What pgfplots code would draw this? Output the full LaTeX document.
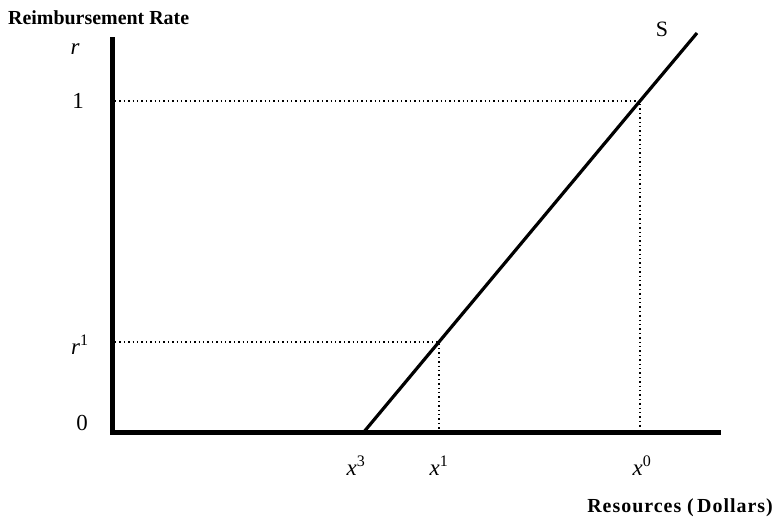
\documentclass[border=0pt]{standalone}
\usepackage{pgfplots}
\pgfplotsset{compat=1.18}
\usepackage{fontspec}
\setmainfont{Liberation Serif}
\newcommand{\lab}{\fontsize{23}{25}\selectfont}
\newcommand{\ttl}{\fontsize{20}{22}\selectfont\bfseries}
\begin{document}
\begin{tikzpicture}
\begin{axis}[
  x=1bp, y=1bp, scale only axis,
  xmin=0, xmax=607, ymin=0, ymax=395,
  axis lines=none, clip=false,
]
\path (axis cs:-113,-88) rectangle (axis cs:661,433);
\draw[line width=5bp, line cap=rect] (axis cs:0,393) -- (axis cs:0,0) -- (axis cs:605,0);
\addplot[black, line width=1.4bp, dash pattern=on 1.4bp off 3bp] coordinates {(2,332) (527,332) (527,2)};
\addplot[black, line width=1.4bp, dash pattern=on 1.4bp off 3bp] coordinates {(2,91) (326,91) (326,2)};
\addplot[black, line width=3.2bp] coordinates {(250,0) (527,332) (584,400)};
\node[anchor=west, font=\ttl, inner sep=0pt] at (axis cs:-105,415) {Reimbursement Rate};
\node[font=\lab] at (axis cs:-38,384) {\textit{r}};
\node[font=\lab] at (axis cs:-35,332) {1};
\node[font=\lab] at (axis cs:-33,88) {\textit{r}\textsuperscript{1}};
\node[font=\lab] at (axis cs:-31,10) {0};
\node[font=\lab] at (axis cs:243,-33) {\textit{x}\textsuperscript{3}};
\node[font=\lab] at (axis cs:326,-33) {\textit{x}\textsuperscript{1}};
\node[font=\lab] at (axis cs:529,-33) {\textit{x}\textsuperscript{0}};
\node[anchor=east, font=\ttl\addfontfeature{LetterSpace=5}, inner sep=0pt] at (axis cs:660,-75) {Resources (\,Dollars)};
\node[font=\fontsize{22}{24}\selectfont] at (axis cs:549,404) {S};
\end{axis}
\end{tikzpicture}
\end{document}
